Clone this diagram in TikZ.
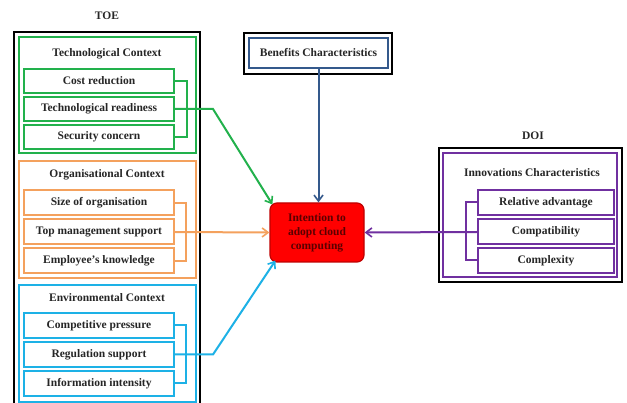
\documentclass[tikz,border=0pt]{standalone}
\usepackage{fontspec}
\setmainfont{Liberation Serif}
\usetikzlibrary{arrows.meta}
\definecolor{cgreen}{HTML}{22B14C}
\definecolor{corange}{HTML}{F4A15D}
\definecolor{cblue}{HTML}{1DB1E6}
\definecolor{cpurple}{HTML}{7030A0}
\definecolor{cnavy}{HTML}{34598C}
\definecolor{cred}{HTML}{FF0000}
\definecolor{credline}{HTML}{C00000}
\definecolor{ctext}{HTML}{5A0000}
\begin{document}
\begin{tikzpicture}[x=1pt,y=-1pt,
  every node/.style={font=\fontsize{11.5}{13}\selectfont\bfseries, text=black!85, inner sep=0pt},
  item/.style={draw, line width=2pt, minimum width=150pt, minimum height=24pt},
  ctx/.style={draw, line width=2pt, minimum width=177pt, minimum height=116pt},
  outer/.style={draw=black, line width=2pt},
  conn/.style={line width=2pt},
  arr/.style={conn, -{Straight Barb[length=6pt,width=9pt,line width=1.6pt]}},
  lbl/.style={}]
\clip (0,0) rectangle (627,403);
\fill[white] (0,0) rectangle (627,403);

% TOE
\node[lbl] (toe) at (107,16) {TOE};
\node[outer, minimum width=186pt, minimum height=380pt] (toebox) at (107,222) {};

% Technological
\node[ctx, draw=cgreen] (techctx) at (107.5,95) {};
\node (techt) at (107,54) {Technological Context};
\node[item, draw=cgreen] (cost) at (99,81) {Cost reduction};
\node[item, draw=cgreen] (ready) at (99,109) {Technological readiness};
\node[item, draw=cgreen] (sec) at (99,137) {Security concern};

% Organisational
\node[ctx, draw=corange, minimum height=117pt] (orgctx) at (107.5,219.5) {};
\node (orgt) at (107,175) {Organisational Context};
\node[item, draw=corange, minimum height=25pt] (size) at (99,203) {Size of organisation};
\node[item, draw=corange, minimum height=25pt] (topm) at (99,232) {Top management support};
\node[item, draw=corange, minimum height=25pt] (emp) at (99,261) {Employee's knowledge};

% Environmental
\node[ctx, draw=cblue, minimum height=117pt] (envctx) at (107.5,343.5) {};
\node (envt) at (107,298) {Environmental Context};
\node[item, draw=cblue, minimum height=25pt] (comp) at (99,325.5) {Competitive pressure};
\node[item, draw=cblue, minimum height=25pt] (reg) at (99,354.5) {Regulation support};
\node[item, draw=cblue, minimum height=25pt] (info) at (99,383.5) {Information intensity};

% Benefits
\node[outer, minimum width=148pt, minimum height=41pt] (benout) at (318,53.5) {};
\node[draw=cnavy, line width=2pt, minimum width=139pt, minimum height=30pt] (ben) at (318.5,53) {Benefits Characteristics};

% Intention
\node[draw=credline, fill=cred, line width=1.2pt, rounded corners=7pt,
  minimum width=94pt, minimum height=59pt, align=center, text=ctext,
  font=\fontsize{11.5}{14}\selectfont\bfseries] (intent) at (317,232.5)
  {Intention to\\adopt cloud\\computing};

% DOI
\node[lbl] (doi) at (533,136) {DOI};
\node[outer, minimum width=183pt, minimum height=134pt] (doibox) at (530.5,215) {};
\node[draw=cpurple, line width=2pt, minimum width=174pt, minimum height=124pt] (innctx) at (530,215) {};
\node (innt) at (532,173) {Innovations Characteristics};
\node[item, draw=cpurple, minimum width=136pt, minimum height=25pt] (rel) at (546,202.5) {Relative advantage};
\node[item, draw=cpurple, minimum width=136pt, minimum height=25pt] (compat) at (546,232) {Compatibility};
\node[item, draw=cpurple, minimum width=136pt, minimum height=25pt] (cplx) at (546,260.5) {Complexity};

% Brackets
\draw[conn, cgreen] (cost.east) -- ++(12,0) |- (sec.east);
\draw[conn, corange] (size.east) -- ++(11,0) |- (emp.east);
\draw[conn, cblue] (comp.east) -- ++(11,0) |- (info.east);
\draw[conn, cpurple] (rel.west) -- ++(-11,0) |- (cplx.west);

% Arrows
\coordinate (gtip) at ([shift={(3,2)}]intent.north west);
\coordinate (btip) at ([shift={(6,-2)}]intent.south west);
\draw[arr, cgreen] (ready.east) -- (213,109) -- (gtip);
\draw[arr, corange] (topm.east) -- (intent.west);
\draw[arr, cblue] (reg.east) -- (213,354.5) -- (btip);
\draw[arr, cpurple] (compat.west) -- (intent.east);
\draw[arr, cnavy] (ben.south) -- (intent.north -| ben.south);
\end{tikzpicture}
\end{document}
